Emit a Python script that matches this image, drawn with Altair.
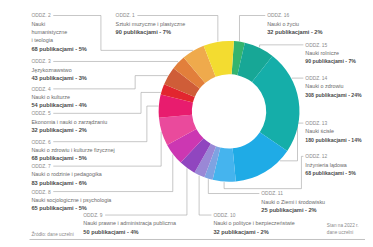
import math
import altair as alt
import pandas as pd

# ---------------- data (clockwise from the top of the ring) ----------------
codes = ["ODDZ. 16", "ODDZ. 15", "ODDZ. 14", "ODDZ. 13", "ODDZ. 12", "ODDZ. 11",
         "ODDZ. 10", "ODDZ. 9", "ODDZ. 8", "ODDZ. 7", "ODDZ. 6", "ODDZ. 5",
         "ODDZ. 4", "ODDZ. 3", "ODDZ. 2", "ODDZ. 1"]
names = ["Nauki o życiu", "Nauki rolnicze", "Nauki o zdrowiu",
         "Nauki ścisłe", "Inżynieria lądowa",
         "Nauki o Ziemi i środowisku", "Nauki o polityce i bezpieczeństwie",
         "Nauki prawne i administracja publiczna", "Nauki socjologiczne i psychologia",
         "Nauki o rodzinie i pedagogika", "Nauki o zdrowiu i kulturze fizycznej",
         "Ekonomia i nauki o zarządzaniu", "Nauki o kulturze", "Językoznawstwo",
         "Nauki\nhumanistyczne\ni teologia", "Sztuki muzyczne i plastyczne"]
counts = [32, 90, 308, 180, 68, 25, 32, 50, 65, 83, 68, 32, 54, 43, 68, 90]
colors = ["#34b46e", "#17a796", "#15aea9", "#1fabe6", "#45b4ee", "#7ea3e2",
          "#9a88d6", "#9046bf", "#cc37b2", "#ea4a9c", "#e81c6e", "#e2262f",
          "#cf5d38", "#e27f3b", "#efaa4c", "#f3dc30"]
source_text = "Źródło: dane uczelni"
note_lines = ["Stan na 2022 r.", "dane uczelni"]

# ---------------- layout (annotation placement only) ----------------
W, H = 365, 239
CX, CY = 226, 103
R_OUT, R_IN = 72, 38
START = math.radians(4)
LH = 8.5
label_x = [265, 304, 304, 304, 304, 259, 210, 77, 24, 24, 24, 24, 24, 24, 24, 110]
label_y = [5, 35, 69, 115, 149, 187, 209, 209, 185, 159, 134, 105, 80, 52, 5, 5]
anchor_frac = [0.5, 0.5, 0.28, 0.2, 0.5, 0.5, 0.5, 0.5, 0.5, 0.5, 0.5, 0.19, 0.5, 0.5, 0.5, 0.48]
elbow_x = [None, None, None, 296, 300, None, None, None, None, None, 142, 136, 130, None, 95, None]
elbow_y = [None, None, None, None, 182, None, None, None, None, None, None, None, None, None, None, None]

total = sum(counts)
slices = pd.DataFrame({"idx": list(range(len(counts))), "name": names, "count": counts})

text_rows, line_rows = [], []
cum = 0
for i, c in enumerate(counts):
    a = START + 2 * math.pi * (cum + c * anchor_frac[i]) / total
    cum += c
    ax = CX + (R_OUT + 0.5) * math.sin(a)
    ay = CY - (R_OUT + 0.5) * math.cos(a)
    lx, yh = label_x[i], label_y[i]
    hw = len(codes[i]) * 2.9
    hx = lx - 2 if lx > ax else lx + hw + 2
    ex = ax if elbow_x[i] is None else elbow_x[i]
    ey = ay if elbow_y[i] is None else elbow_y[i]
    pts = [(hx, yh), (ex, yh), (ex, ey), (ax, ey), (ax, ay)]
    for k, (px, py) in enumerate(pts):
        line_rows.append({"lid": i, "k": k, "x": px, "y": py})
    pct = round(c / total * 100)
    side = "r" if lx > 290 else "n"
    text_rows.append({"x": lx, "y": yh, "t": codes[i], "kind": "head"})
    nl = names[i].split("\n")
    for j, s in enumerate(nl):
        text_rows.append({"x": lx, "y": yh + LH * (j + 1), "t": s, "kind": "name"})
    text_rows.append({"x": lx, "y": yh + LH * (len(nl) + 1),
                      "t": f"{c} publikacjami - {pct}%", "kind": "value" + side})

text_rows.append({"x": 24, "y": 229, "t": source_text, "kind": "src"})
for j, s in enumerate(note_lines):
    text_rows.append({"x": 326, "y": 220 + 7 * j, "t": s, "kind": "src"})

texts = pd.DataFrame(text_rows)
lines = pd.DataFrame(line_rows)
rule = pd.DataFrame({"x": [22], "x2": [W], "y": [234]})

xs = alt.Scale(domain=[0, W], range=[0, W], nice=False, zero=False)
ys = alt.Scale(domain=[0, H], range=[0, H], nice=False, zero=False)

donut = alt.Chart(slices).mark_arc(innerRadius=R_IN, outerRadius=R_OUT).encode(
    theta=alt.Theta("count:Q", stack=True,
                    scale=alt.Scale(range=[START, START + 2 * math.pi])),
    color=alt.Color("name:N", scale=alt.Scale(domain=names, range=colors), legend=None),
    order=alt.Order("idx:Q"),
    x=alt.value(CX), y=alt.value(CY),
)

leaders = alt.Chart(lines).mark_line(color="#a0a0a0", strokeWidth=0.6).encode(
    x=alt.X("x:Q", scale=xs, axis=None),
    y=alt.Y("y:Q", scale=ys, axis=None),
    detail="lid:N", order="k:Q",
)

bottom_rule = alt.Chart(rule).mark_rule(color="#b0b0b0", strokeWidth=0.8).encode(
    x=alt.X("x:Q", scale=xs, axis=None), x2="x2:Q",
    y=alt.Y("y:Q", scale=ys, axis=None),
)

def text_layer(kind, size, color, weight="normal"):
    return alt.Chart(texts).transform_filter(alt.datum.kind == kind).mark_text(
        align="left", baseline="middle", fontSize=size, color=color,
        fontWeight=weight, font="Liberation Sans",
    ).encode(
        x=alt.X("x:Q", scale=xs, axis=None),
        y=alt.Y("y:Q", scale=ys, axis=None),
        text="t:N",
    )

chart = alt.layer(
    leaders, bottom_rule, donut,
    text_layer("head", 5, "#8a8a8a"),
    text_layer("name", 5.5, "#6a6a6a"),
    text_layer("valuen", 5.8, "#4a4a4a", "bold"),
    text_layer("valuer", 5.3, "#4a4a4a", "bold"),
    text_layer("src", 4.8, "#8a8a8a"),
).properties(
    width=W, height=H, padding=0, autosize=alt.AutoSizeParams(type="none"),
    background="white",
).configure_view(stroke=None)

chart.save("out.html", embed_options={"renderer": "svg", "actions": False})
